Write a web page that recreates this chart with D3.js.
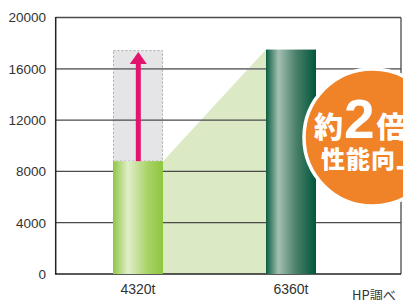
<!DOCTYPE html>
<html><head><meta charset="utf-8">
<script src="https://cdn.jsdelivr.net/npm/d3@7"></script>
<style>html,body{margin:0;padding:0;background:#fff;overflow:hidden}</style>
</head><body>
<svg id="c" width="403" height="300"></svg>
<script>
const categories = ["4320t", "6360t"];
const values = [8800, 17500];
const yTicks = [0, 4000, 8000, 12000, 16000, 20000];
const badgeLine1 = ["約", "2", "倍"];
const badgeLine2 = "性能向上";
const source = "HP調べ";

const svg = d3.select("#c");
const plotL = 55.7, plotR = 401, plotT = 17.5, plotB = 274;
const y = d3.scaleLinear().domain([0, 20000]).range([plotB, plotT]);
const x = d3.scaleBand().domain(categories).range([113, 316]).paddingInner(103/153).paddingOuter(0);
const bw = x.bandwidth();

const defs = svg.append("defs");
const g1 = defs.append("linearGradient").attr("id", "gl").attr("x1", 0).attr("x2", 1).attr("y1", 0).attr("y2", 0);
[[0, "#8fc742"], [0.3, "#e1eecb"], [0.7, "#a8d265"], [1, "#8dc63f"]].forEach(s => g1.append("stop").attr("offset", s[0]).attr("stop-color", s[1]));
const g2 = defs.append("linearGradient").attr("id", "gd").attr("x1", 0).attr("x2", 1).attr("y1", 0).attr("y2", 0);
[[0, "#0a5d40"], [0.25, "#a3c0b2"], [0.6, "#4a806a"], [1, "#00573a"]].forEach(s => g2.append("stop").attr("offset", s[0]).attr("stop-color", s[1]));

// growth polygon
const xa = x(categories[0]) + bw, xb = x(categories[1]);
svg.append("polygon")
  .attr("points", [[xa, y(values[0])], [xb, y(values[1])], [xb, y(0)], [xa, y(0)]].map(p => p.join(",")).join(" "))
  .attr("fill", "#dce9c5");

// ghost box
svg.append("rect")
  .attr("x", x(categories[0]) + 0.5).attr("y", y(values[1]) + 1)
  .attr("width", bw - 1).attr("height", y(values[0]) - y(values[1]) - 1)
  .attr("fill", "#e5e5e8").attr("stroke", "#aaa").attr("stroke-width", 1).attr("stroke-dasharray", "2,2");

// gridlines
svg.append("g").selectAll("line").data(yTicks.filter(d => d > 0)).join("line")
  .attr("x1", plotL).attr("x2", plotR).attr("y1", d => y(d)).attr("y2", d => y(d))
  .attr("stroke", d => d === 16000 ? "#7a7a7a" : "#4a4a4a").attr("stroke-width", d => d === 16000 ? 1.8 : 1.3);

// frame
svg.append("line").attr("x1", plotR).attr("x2", plotR).attr("y1", plotT).attr("y2", plotB).attr("stroke", "#4a4a4a").attr("stroke-width", 1.3);
svg.append("line").attr("x1", plotL).attr("x2", plotR).attr("y1", plotB).attr("y2", plotB).attr("stroke", "#222").attr("stroke-width", 1.5);
svg.append("line").attr("x1", plotL).attr("x2", plotL).attr("y1", plotT - 0.6).attr("y2", plotB + 0.7).attr("stroke", "#222").attr("stroke-width", 1.5);

// bars
svg.append("g").selectAll("rect").data(values).join("rect")
  .attr("x", (d, i) => x(categories[i])).attr("y", d => y(d))
  .attr("width", bw).attr("height", d => y(0) - y(d))
  .attr("fill", (d, i) => i === 0 ? "url(#gl)" : "url(#gd)");

// arrow
const ax = x(categories[0]) + bw / 2 + 0.3;
const tipY = y(values[1]) + 2.5;
svg.append("rect").attr("x", ax - 2.5).attr("y", tipY + 10).attr("width", 5).attr("height", y(values[0]) - tipY - 10).attr("fill", "#e2146e");
svg.append("polygon").attr("points", `${ax},${tipY} ${ax - 8.5},${tipY + 12} ${ax + 8.5},${tipY + 12}`).attr("fill", "#e2146e");

// y tick labels
svg.append("g").selectAll("text").data(yTicks).join("text")
  .attr("x", 46).attr("y", d => y(d) + 4.8).attr("text-anchor", "end")
  .attr("font-family", "Liberation Sans, Arial, sans-serif").attr("font-size", 13.5).attr("fill", "#333")
  .text(d => d);

// x labels
svg.append("g").selectAll("text").data(categories).join("text")
  .attr("x", d => x(d) + bw / 2).attr("y", 294).attr("text-anchor", "middle")
  .attr("font-family", "Liberation Sans, Arial, sans-serif").attr("font-size", 14).attr("fill", "#333")
  .text(d => d);

// badge
svg.append("circle").attr("cx", 372.5).attr("cy", 137.5).attr("r", 68.5)
  .attr("fill", "#f08228").attr("stroke", "#fff").attr("stroke-width", 3.5);
const t1 = svg.append("text").attr("x", 314).attr("y", 137.5)
  .attr("font-family", "Noto Sans CJK JP, sans-serif").attr("font-weight", 900).attr("fill", "#fff");
t1.append("tspan").attr("font-size", 29).text(badgeLine1[0]);
t1.append("tspan").attr("font-family", "Liberation Sans, Arial, sans-serif").attr("font-weight", 700).attr("font-size", 55).attr("dx", 1).text(badgeLine1[1]);
t1.append("tspan").attr("font-size", 29).attr("dx", 2).text(badgeLine1[2]);
svg.append("text").attr("x", 321).attr("y", 168)
  .attr("font-family", "Noto Sans CJK JP, sans-serif").attr("font-weight", 900).attr("font-size", 24)
  .attr("letter-spacing", 1).attr("fill", "#fff").text(badgeLine2);

// source
svg.append("text").attr("x", 352).attr("y", 300)
  .attr("font-family", "Noto Sans CJK JP, sans-serif").attr("font-size", 13).attr("fill", "#333").text(source);
</script>
</body></html>
